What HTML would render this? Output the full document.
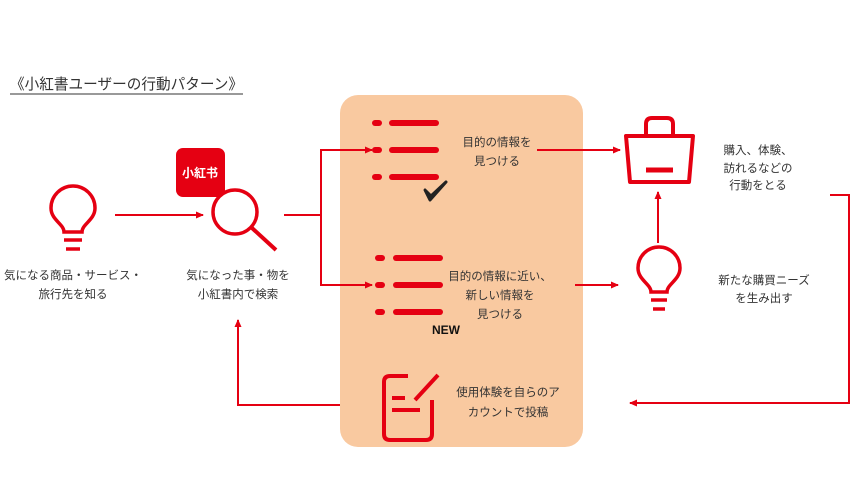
<!DOCTYPE html>
<html><head><meta charset="utf-8"><style>
body{margin:0;width:864px;height:488px;background:#fff;overflow:hidden;font-family:"Liberation Sans","Noto Sans CJK JP",sans-serif}
</style></head><body>
<svg width="864" height="488" xmlns="http://www.w3.org/2000/svg" style="position:absolute;left:0;top:0">
<defs><marker id="a" markerWidth="8" markerHeight="8" refX="7" refY="4" orient="auto" markerUnits="userSpaceOnUse"><path d="M0,0.5 L8,4 L0,7.5z" fill="#e50012"/></marker></defs>
<g font-family="Liberation Sans, Noto Sans CJK JP, sans-serif">
<text x="10" y="89" font-size="15" fill="#333" textLength="233" lengthAdjust="spacingAndGlyphs">《小紅書ユーザーの行動パターン》</text>
<line x1="10" y1="94" x2="243" y2="94" stroke="#333" stroke-width="1"/>
<rect x="340" y="95" width="243" height="352" rx="18" fill="#f9c9a0"/>
<g stroke="#e50012" fill="none" stroke-width="3.5">
<path d="M64,232 C64,224 51,220 51,208 A22,22 0 1 1 95,208 C95,220 82,224 82,232 Z"/>
<line x1="64" y1="240" x2="82" y2="240"/><line x1="66" y1="249" x2="80" y2="249"/>
<line x1="115" y1="215" x2="203" y2="215" stroke-width="2" marker-end="url(#a)"/>
<line x1="252" y1="228" x2="276" y2="250" stroke-width="4"/>
<line x1="284" y1="215" x2="321" y2="215" stroke-width="2"/>
<polyline points="372,150 321,150 321,285 372,285" stroke-width="2"/>
<line x1="330" y1="150" x2="372" y2="150" stroke-width="2" marker-end="url(#a)"/>
<line x1="330" y1="285" x2="372" y2="285" stroke-width="2" marker-end="url(#a)"/>
<line x1="537" y1="150" x2="620" y2="150" stroke-width="2" marker-end="url(#a)"/>
<line x1="575" y1="285" x2="618" y2="285" stroke-width="2" marker-end="url(#a)"/>
<line x1="658" y1="243" x2="658" y2="192" stroke-width="2" marker-end="url(#a)"/>
<polyline points="830,195 849,195 849,403 630,403" stroke-width="2" marker-end="url(#a)"/>
<polyline points="340,405 238,405 238,320" stroke-width="2" marker-end="url(#a)"/>
<path d="M626,136 H693 L689,182 H630 Z" stroke-width="4" stroke-linejoin="round"/>
<path d="M646,136 V124 Q646,118 652,118 H667 Q673,118 673,124 V136" stroke-width="4"/>
<line x1="646" y1="170" x2="673" y2="170" stroke-width="5"/>
<path d="M651,292 C651,284 638,280 638,268 A21,21 0 1 1 680,268 C680,280 667,284 667,292 Z"/>
<line x1="651" y1="300" x2="667" y2="300"/><line x1="653" y1="309" x2="665" y2="309"/>
<path d="M408,376 H390 Q384,376 384,382 V434 Q384,440 390,440 H426 Q432,440 432,434 V400" stroke-width="4" stroke-linejoin="round"/>
<line x1="415" y1="400" x2="438" y2="375" stroke-width="4"/>
<line x1="392" y1="398" x2="405" y2="398" stroke-width="4"/>
<line x1="392" y1="410" x2="420" y2="410" stroke-width="4"/>
</g>
<g stroke="#e50012" stroke-width="6" stroke-linecap="round">
<line x1="375" y1="123" x2="379" y2="123"/><line x1="392" y1="123" x2="436" y2="123"/>
<line x1="375" y1="150" x2="379" y2="150"/><line x1="392" y1="150" x2="436" y2="150"/>
<line x1="375" y1="177" x2="379" y2="177"/><line x1="392" y1="177" x2="436" y2="177"/>
<line x1="378" y1="258" x2="382" y2="258"/><line x1="396" y1="258" x2="440" y2="258"/>
<line x1="378" y1="285" x2="382" y2="285"/><line x1="396" y1="285" x2="440" y2="285"/>
<line x1="378" y1="312" x2="382" y2="312"/><line x1="396" y1="312" x2="440" y2="312"/>
</g>
<path d="M425,190 L430,200 L446,182 L431,196 Z" fill="#222" stroke="#222" stroke-width="3" stroke-linejoin="round"/>
<text x="432" y="334" font-size="12" font-weight="bold" fill="#111">NEW</text>
<rect x="176" y="148" width="49" height="49" rx="7" fill="#e50012"/>
<text x="200" y="177" font-size="12" font-weight="bold" fill="#fff" text-anchor="middle">小紅书</text>
<circle cx="235" cy="212" r="22" fill="none" stroke="#e50012" stroke-width="3.5"/>
<g font-size="11.5" fill="#333" text-anchor="middle">
<text x="73" y="279">気になる商品・サービス・</text><text x="73" y="298">旅行先を知る</text>
<text x="238" y="279">気になった事・物を</text><text x="238" y="298">小紅書内で検索</text>
<text x="497" y="146">目的の情報を</text><text x="497" y="165">見つける</text>
<text x="500" y="280">目的の情報に近い、</text><text x="500" y="299">新しい情報を</text><text x="500" y="318">見つける</text>
<text x="508" y="396">使用体験を自らのア</text><text x="508" y="416">カウントで投稿</text>
<text x="758" y="154">購入、体験、</text><text x="758" y="172">訪れるなどの</text><text x="758" y="189">行動をとる</text>
<text x="764" y="284">新たな購買ニーズ</text><text x="764" y="302">を生み出す</text>
</g>
</g>
</svg>
</body></html>
